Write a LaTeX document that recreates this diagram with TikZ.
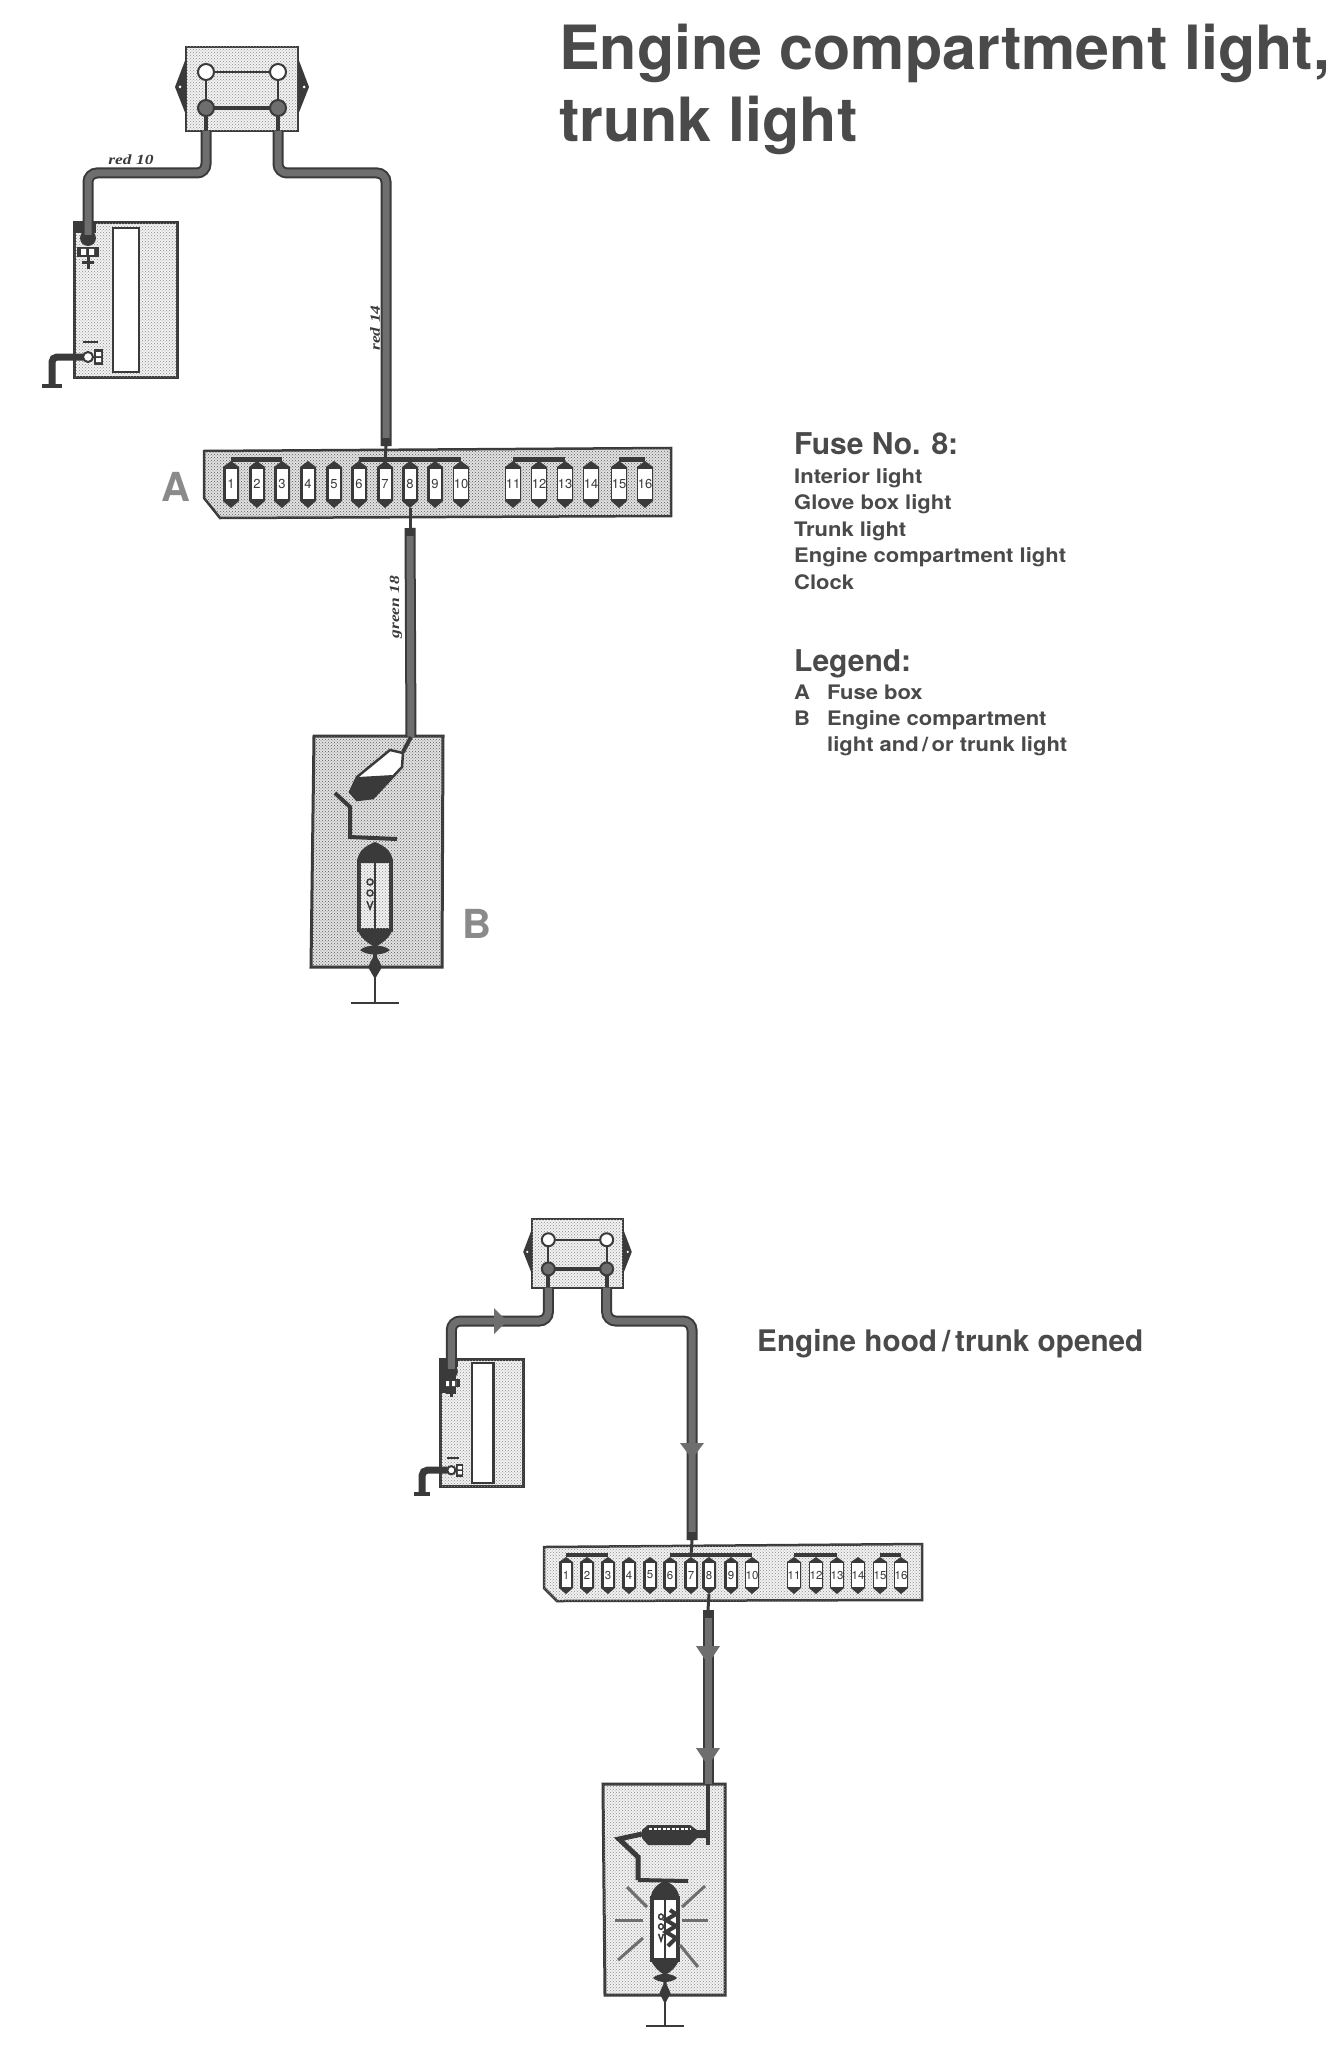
\documentclass[tikz,border=0pt]{standalone}
\usepackage{fontspec}
\setmainfont{TeX Gyre Heros}
\newfontfamily\widefont{TeX Gyre Heros}[FakeStretch=1.1]
\newfontfamily\wirefont{Liberation Serif}[FakeStretch=1.25]
\usetikzlibrary{patterns}
\definecolor{ink}{HTML}{4A4A4A}
\definecolor{dark}{HTML}{3A3A3A}
\definecolor{core}{HTML}{6E6E6E}
\definecolor{letterc}{HTML}{8A8A8A}
\definecolor{tint}{HTML}{E2E2E2}
\definecolor{pale}{HTML}{F2F2F2}
\tikzset{
  stip/.style={fill=tint,postaction={pattern=crosshatch dots,pattern color=black!65}},
  stiplight/.style={fill=pale,postaction={pattern=crosshatch dots,pattern color=black!45}},
  lighter/.style={stip/.style={fill=pale,postaction={pattern=crosshatch dots,pattern color=black!45}}},
  lampfill/.style={stiplight},
  wire/.style={draw=dark,line width=2pt,double=core,double distance=7pt,rounded corners=9pt},
  thinwire/.style={draw=dark,line width=3pt},
  collar/.style={draw=dark,line width=9pt},
  earth/.style={draw=dark,line width=7pt,rounded corners=5pt},
  wirelabel/.style={font=\wirefont\bfseries\itshape\fontsize{14}{14}\selectfont,text=dark,inner sep=0pt},
  letter/.style={font=\bfseries\fontsize{40}{40}\selectfont,text=letterc,inner sep=0pt},
  headline/.style={font=\bfseries\fontsize{61}{61}\selectfont,text=ink,inner sep=0pt,anchor=base west},
  head/.style={font=\bfseries\fontsize{30}{30}\selectfont,text=ink,inner sep=0pt,anchor=base west},
  entry/.style={font=\widefont\bfseries\fontsize{20}{20}\selectfont,text=ink,inner sep=0pt,anchor=base west},
  fusea/.style={fill=white,inner sep=0pt,minimum width=11pt,minimum height=30pt,text=dark,font=\fontsize{13}{13}\selectfont},
  fuseb/.style={fill=white,inner sep=0pt,minimum width=9pt,minimum height=24pt,text=dark,font=\fontsize{11.5}{11.5}\selectfont},
  ray/.style={draw=core,line width=3pt},
  tip/.style={fill=core},
  relaybox/.pic={
    \fill[dark] (-56,-31) -- (-67,-2) -- (-56,26) -- cycle;
    \fill[dark] (56,-31) -- (67,-2) -- (56,26) -- cycle;
    \fill[white] (-62,-2) circle (1.5);
    \fill[white] (62,-2) circle (1.5);
    \draw[stip,draw=dark,line width=2pt] (-56,-42) rectangle (56,42);
    \draw[dark,line width=2pt] (-36,-17) -- (36,-17) (-36,-17) -- (-36,19) (36,-17) -- (36,19);
    \draw[dark,line width=4pt] (-36,19) -- (36,19) (-36,19) -- (-36,42) (36,19) -- (36,42);
    \draw[dark,line width=2pt,fill=white] (-36,-17) circle (8) (36,-17) circle (8);
    \draw[dark,line width=2pt,fill=core] (-36,19) circle (8) (36,19) circle (8);
    \coordinate (-l) at (-36,42);
    \coordinate (-r) at (36,42);
  },
  batterybox/.pic={
    \draw[stip,draw=dark,line width=3pt] (0,0) rectangle (103,154);
    \draw[fill=white,draw=dark,line width=2pt] (39,5) rectangle (65,149);
    \fill[dark] (0,0) rectangle (22,10);
    \fill[dark] (14,15) circle (8);
    \fill[dark] (3,24) rectangle (25,34);
    \fill[white] (7,26) rectangle (12,32) (15,26) rectangle (20,32);
    \draw[dark,line width=3pt] (8,40) -- (20,40) (14,34) -- (14,46);
    \draw[dark,line width=2.5pt] (9,119) -- (24,119);
    \draw[dark,line width=2pt,fill=white] (14,134) circle (5);
    \fill[dark] (20,126) rectangle (29,142);
    \fill[white] (22,129) rectangle (27,133) (22,135) rectangle (27,139);
    \draw[earth] (9,134) -- (-22,134) -- (-22,162);
    \draw[dark,line width=4pt] (-32,163) -- (-12,163);
    \coordinate (-p) at (14,12);
  },
  lamp/.pic={
    \draw[lampfill,draw=dark,line width=4pt] (-16,22) rectangle (16,91);
    \draw[dark,line width=2.5pt] (0,22) -- (0,91);
    \draw[dark,line width=1.5pt] (-5,43) circle (3) (-5,54) circle (3) (-8,62) -- (-5,70) -- (-2,62);
    \fill[dark] (-18,24) .. controls (-18,12) and (-8,6) .. (0,3) .. controls (8,6) and (18,12) .. (18,24) -- cycle;
    \fill[dark] (-18,90) .. controls (-15,98) and (-8,104) .. (0,108) .. controls (8,104) and (15,98) .. (18,90) -- cycle;
    \fill[dark] (-15,111) .. controls (-8,105) and (8,105) .. (15,111) .. controls (8,117) and (-8,117) .. (-15,111) -- cycle;
    \fill[dark] (-2,108) -- (2,108) -- (2,118) -- (7,128) -- (0,140) -- (-7,128) -- (-2,118) -- cycle;
    \draw[dark,line width=2pt] (0,130) -- (0,164);
    \draw[dark,line width=2pt] (-24,164) -- (24,164);
  }
}
\begin{document}
\begin{tikzpicture}[x=1pt,y=-1pt]
\useasboundingbox (0,0) rectangle (1337,2049);
\fill[white] (0,0) rectangle (1337,2049);

\node[headline] (title1) at (559,70) {Engine compartment light,};
\node[headline] (title2) at (559,142) {trunk light};

\node[head] (fuseno) at (794,454) {Fuse No. 8:};
\node[entry] (e1) at (794,483) {Interior light};
\node[entry] (e2) at (794,509) {Glove box light};
\node[entry] (e3) at (794,536) {Trunk light};
\node[entry] (e4) at (794,562) {Engine compartment light};
\node[entry] (e5) at (794,589) {Clock};
\node[head] (legend) at (794,671) {Legend:};
\node[entry] (la) at (794,699) {A};
\node[entry] (lb) at (794,725) {B};
\node[entry] (l1) at (827,699) {Fuse box};
\node[entry] (l2) at (827,725) {Engine compartment};
\node[entry] (l3) at (827,751) {light and\,/\,or trunk light};
\node[head,font=\bfseries\fontsize{29.7}{29.7}\selectfont] (opened) at (757,1351) {Engine hood\,/\,trunk opened};

\pic[lighter] (swa) at (242,89) {relaybox};
\pic[lighter] (bata) at (74,223) {batterybox};
\draw[stip,draw=dark,line width=2.5pt] (204,451) -- (671,448) -- (671,516) -- (220,518) -- (204,498) -- cycle;
\draw[dark,line width=5pt] (231,459) -- (282,459) (359,459) -- (461,459) (513,459) -- (565,459) (619,459) -- (645,459);
\foreach \n/\x in {1/231,2/257,3/282,4/308,5/334,6/359,7/385,8/410,9/435,10/461,11/513,12/539,13/565,14/591,15/619,16/645}{
  \fill[dark] (\x-8,467) -- (\x,461) -- (\x+8,467) -- (\x+8,501) -- (\x,508) -- (\x-8,501) -- cycle;
  \node[fusea] (fa\n) at (\x,484) {\n};
}
\node[letter] (A) at (176,487) {A};
\node[letter] (B) at (477,924) {B};

\draw[stip,draw=dark,line width=3pt] (314,736) -- (443,736) -- (442,967) -- (311,967) -- cycle;
\pic (lama) at (375,839) {lamp};
\draw[fill=white,draw=dark,line width=2.5pt] (390,750) -- (403,753) -- (402,767) -- (373,798) -- (357,800) -- (350,792) -- (357,777) -- cycle;
\fill[dark] (358,777) -- (393,775) -- (373,798) -- (357,800) -- (350,792) -- cycle;
\draw[dark,line width=4pt] (335,793) -- (350,807) -- (350,837) -- (397,839);

\coordinate (wa) at (150,173);
\coordinate (wb) at (330,173);
\coordinate (ina) at (386,446);
\coordinate (outa) at (410,528);
\coordinate (swin) at (411,737);
\draw[wire] (swa-l) |- (wa) -| (bata-p);
\draw[wire] (swa-r) |- (wb) -| (ina);
\draw[thinwire] (ina) -- (385,462);
\draw[collar] (ina) -- (386,438);
\draw[thinwire] (fa8) ++(0,24) -- (outa);
\draw[wire] (outa) -- (swin);
\draw[collar] (outa) -- (410,536);
\draw[dark,line width=4pt] (swin) -- (403,752);
\node[wirelabel] (w10) at (131,160) {red 10};
\node[wirelabel,rotate=90] (w14) at (375,328) {red 14};
\node[wirelabel,rotate=90] (w18) at (396,607) {green 18};

\pic[scale=.81,lighter] (swb) at (577.5,1253.5) {relaybox};
\pic[xscale=.81,yscale=.83,lighter] (batb) at (440,1359) {batterybox};
\draw[dark,line width=3pt] (493,1362) -- (493,1484);
\fill[dark] (440,1359) rectangle (456,1393);
\fill[white] (446,1381) rectangle (449,1386) (452,1381) rectangle (455,1386);
\draw[stiplight,draw=dark,line width=2.5pt] (544,1547) -- (922,1544) -- (922,1600) -- (557,1601) -- (544,1588) -- cycle;
\draw[dark,line width=4pt] (566,1555) -- (608,1555) (670,1555) -- (752,1555) (794,1555) -- (837,1555) (880,1555) -- (901,1555);
\foreach \n/\x in {1/566,2/587,3/608,4/629,5/650,6/670,7/691,8/709,9/731,10/752,11/794,12/816,13/837,14/858,15/880,16/901}{
  \fill[dark] (\x-7,1562) -- (\x,1557) -- (\x+7,1562) -- (\x+7,1588) -- (\x,1594) -- (\x-7,1588) -- cycle;
  \node[fuseb] (fb\n) at (\x,1575) {\n};
}

\draw[stiplight,draw=dark,line width=3pt] (603,1784) -- (725,1784) -- (725,1995) -- (605,1995) -- cycle;
\pic[xscale=.8,yscale=.9,lampfill/.style={fill=white}] (lamb) at (665,1878) {lamp};
\draw[dark,line width=4pt] (670,1910) -- (676,1914) -- (666,1920) -- (676,1926) -- (666,1932) -- (676,1938) -- (668,1946);
\fill[dark] (642,1830) -- (648,1825) -- (690,1825) -- (697,1830) -- (708,1830) -- (708,1838) -- (697,1838) -- (690,1845) -- (648,1845) -- (642,1838) -- cycle;
\draw[white,line width=2pt,dash pattern=on 3pt off 1.5pt] (649,1829) -- (690,1829);
\draw[dark,line width=5pt] (642,1834) -- (619,1839) -- (638,1857) -- (638,1880);
\draw[dark,line width=4pt] (638,1880) -- (688,1881);

\draw[ray] (627,1887) -- (647,1907);
\draw[ray] (615,1920) -- (643,1920);
\draw[ray] (618,1960) -- (643,1938);
\draw[ray] (705,1886) -- (682,1907);
\draw[ray] (682,1920) -- (708,1920);
\draw[ray] (680,1945) -- (698,1967);

\coordinate (wc) at (500,1321);
\coordinate (wd) at (650,1321);
\coordinate (inb) at (692,1540);
\coordinate (outb) at (708,1610);
\coordinate (swinb) at (708,1784);
\draw[wire] (swb-l) |- (wc) -| (batb-p);
\draw[wire] (swb-r) |- (wd) -| (inb);
\draw[thinwire] (inb) -- (691,1556);
\draw[collar] (inb) -- (692,1532);
\draw[thinwire] (fb8) ++(0,19) -- (outb);
\draw[wire] (outb) -- (swinb);
\draw[collar] (outb) -- (708,1618);
\draw[dark,line width=4pt] (swinb) -- (708,1845);

\fill[tip] (494,1308) -- (507,1321) -- (494,1334) -- cycle;
\fill[tip] (680,1443) -- (704,1443) -- (692,1459) -- cycle;
\fill[tip] (696,1646) -- (720,1646) -- (708,1664) -- cycle;
\fill[tip] (696,1748) -- (720,1748) -- (708,1766) -- cycle;
\end{tikzpicture}
\end{document}
